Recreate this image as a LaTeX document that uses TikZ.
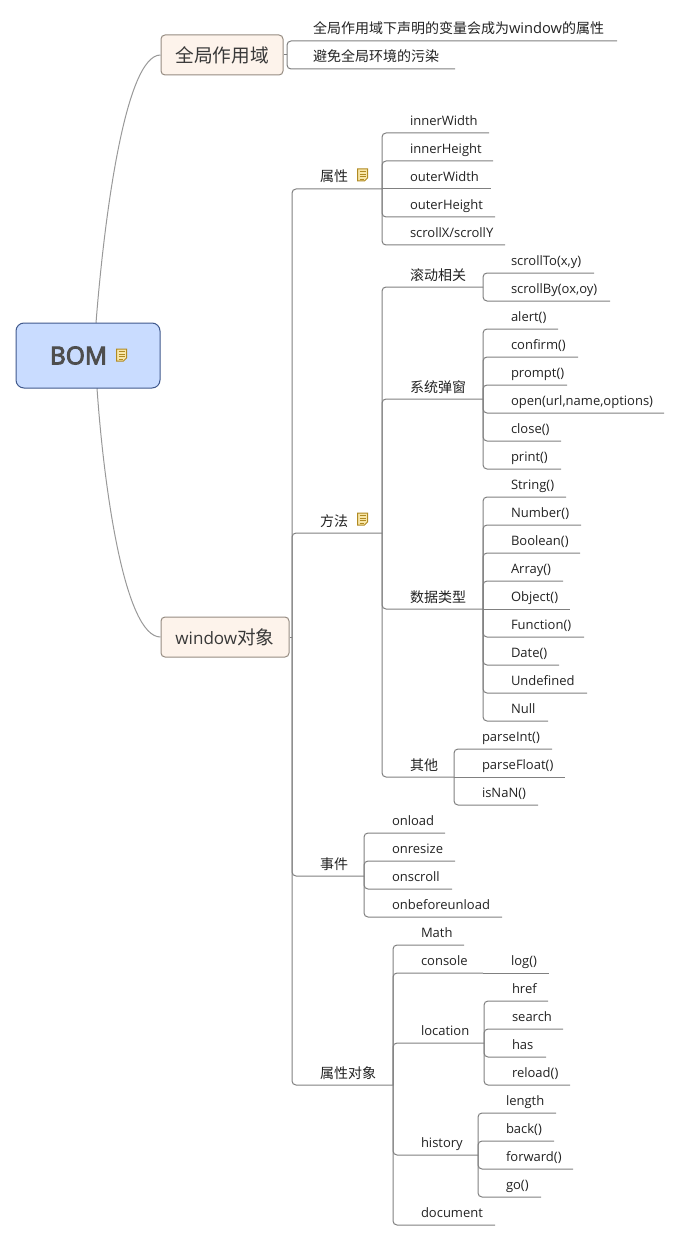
\documentclass[tikz,border=0pt]{standalone}
\usepackage{fontspec}
\setmainfont{Open Sans}
\newfontfamily\cjk{Noto Sans CJK SC}
\newfontfamily\bomfont[FakeBold=4]{Open Sans}
\definecolor{linegray}{HTML}{808080}
\definecolor{rootfill}{HTML}{C9DCFF}
\definecolor{rootline}{HTML}{40598C}
\definecolor{mainfill}{HTML}{FDF3EB}
\definecolor{mainline}{HTML}{968C82}
\definecolor{ink}{HTML}{222222}
\definecolor{notefill}{HTML}{F8E6A8}
\definecolor{noteline}{HTML}{B08A22}
\newcommand\dn[1]{\raisebox{-0.6pt}{#1}}
\newcommand\zh[1]{\raisebox{-0.75pt}{\cjk\fontsize{10.5}{12}\selectfont #1}}
\newcommand\zhbig[1]{{\cjk\fontsize{14}{18}\selectfont #1}}
\tikzset{
  conn/.style={draw=linegray,line width=0.75pt,rounded corners=3pt},
  curveconn/.style={draw=linegray!80,line width=0.75pt},
  lbl/.style={inner sep=0pt,outer sep=0pt,anchor=base west,text depth=6pt,text=ink,font=\fontsize{9.75}{12}\selectfont},
  rootbox/.style={draw=rootline,fill=rootfill,line width=0.75pt,rounded corners=6pt,minimum width=108pt,minimum height=48.75pt,inner sep=0pt,text=ink!80,font=\fontsize{18.4}{22}\selectfont\bomfont},
  mainbox/.style={draw=mainline,fill=mainfill,line width=0.75pt,rounded corners=3pt,minimum height=30pt,inner sep=0pt,text=ink!90},
  joint/.style={inner sep=0pt,outer sep=0pt,minimum size=0pt},
  noteicon/.style={fill=notefill,draw=noteline,line width=0.75pt,line join=miter}
}
\newcommand\topic[6]{%
  \pgfmathsetlengthmacro\tw{(#5-#3)*0.75pt}%
  \node[lbl] (#1) at (#3,#4-8) {\makebox[\tw][l]{#6}};
  \draw[conn] (#2.south east) |- (#1.south east);
}
% a child on the same level as the end of its parent's line: the connector runs straight on
\newcommand\straighttopic[6]{%
  \pgfmathsetlengthmacro\tw{(#5-#3)*0.75pt}%
  \node[lbl] (#1) at (#3,#4-8) {\makebox[\tw][l]{#6}};
  \draw[conn] (#2.south east) -- (#1.south east);
}
\newcommand\noteat[2]{%
  \begin{scope}[shift={(#1,#2)}]
    \path[noteicon] (-5,-6) -- (5,-6) -- (5,3) -- (2,6) -- (-5,6) -- cycle;
    \draw[noteline,line width=0.6pt] (-3,-3.5) -- (3,-3.5) (-3,-1) -- (3,-1) (-3,1.5) -- (3,1.5) (-3,4) -- (1,4);
  \end{scope}
}
\begin{document}
\begin{tikzpicture}[x=0.75pt,y=-0.75pt]
\useasboundingbox (0,0) rectangle (680,1241);
% curves
\node[mainbox,minimum width=91.5pt] (g) at (222,55) {\zhbig{全局作用域}};
\node[mainbox,minimum width=96pt] (w) at (225,637) {\fontsize{12.8}{15}\selectfont window\zhbig{对象}};
\coordinate (rt) at (96,323);
\coordinate (rb) at (97,388);
\draw[curveconn] (rt) .. controls (104,220) and (125,55) .. (g.west);
\draw[curveconn] (rb) .. controls (104,490) and (125,637) .. (w.west);
\node[rootbox] (root) at (88,355.5) {BOM\rule{14.25pt}{0pt}};
\noteat{121.5}{355}
% joints
\node[joint] (gj) at (287,55) {};
\node[joint] (wj) at (292,637) {};
\draw[conn] (g.east) -- (gj.center);
\draw[conn] (w.east) -- (wj.center);
% global scope
\topic{g1}{gj}{313}{41}{617}{\zh{全局作用域下声明的变量会成为}\dn{\fontsize{11}{12}\selectfont window}\zh{的属性}}
\topic{g2}{gj}{313}{69}{455}{\zh{避免全局环境的污染}}
% window level
\topic{attr}{wj}{320}{189}{382}{\zh{属性}}
\topic{meth}{wj}{320}{533}{382}{\zh{方法}}
\topic{evt}{wj}{320}{876}{364}{\zh{事件}}
\topic{objs}{wj}{320}{1085}{393}{\zh{属性对象}}
\noteat{362.5}{175}
\noteat{362.5}{519}
% attributes
\topic{a1}{attr}{410}{133}{489}{\dn{innerWidth}}
\topic{a2}{attr}{410}{161}{493}{\dn{innerHeight}}
\straighttopic{a3}{attr}{410}{189}{491}{\dn{outerWidth}}
\topic{a4}{attr}{410}{217}{495}{\dn{outerHeight}}
\topic{a5}{attr}{410}{245}{505}{\dn{scrollX/scrollY}}
% methods
\topic{m1}{meth}{410}{287}{483}{\zh{滚动相关}}
\topic{m2}{meth}{410}{399}{483}{\zh{系统弹窗}}
\topic{m3}{meth}{410}{609}{483}{\zh{数据类型}}
\topic{m4}{meth}{410}{777}{454}{\zh{其他}}
\topic{s1}{m1}{511}{273}{594}{scrollTo(x,y)}
\topic{s2}{m1}{511}{301}{610}{scrollBy(ox,oy)}
\topic{p1}{m2}{511}{329}{558}{alert()}
\topic{p2}{m2}{511}{357}{578}{confirm()}
\topic{p3}{m2}{511}{385}{567}{prompt()}
\topic{p4}{m2}{511}{413}{664}{open(url,name,options)}
\topic{p5}{m2}{511}{441}{561}{close()}
\topic{p6}{m2}{511}{469}{561}{print()}
\topic{d1}{m3}{511}{497}{566}{String()}
\topic{d2}{m3}{511}{525}{581}{Number()}
\topic{d3}{m3}{511}{553}{580}{Boolean()}
\topic{d4}{m3}{511}{581}{563}{Array()}
\straighttopic{d5}{m3}{511}{609}{570}{Object()}
\topic{d6}{m3}{511}{637}{584}{Function()}
\topic{d7}{m3}{511}{665}{559}{Date()}
\topic{d8}{m3}{511}{693}{587}{Undefined}
\topic{d9}{m3}{511}{721}{548}{Null}
\topic{o1}{m4}{482}{749}{552}{parseInt()}
\straighttopic{o2}{m4}{482}{777}{565}{parseFloat()}
\topic{o3}{m4}{482}{805}{538}{isNaN()}
% events
\topic{e1}{evt}{392}{833}{445}{onload}
\topic{e2}{evt}{392}{861}{455}{onresize}
\topic{e3}{evt}{392}{889}{452}{onscroll}
\topic{e4}{evt}{392}{917}{502}{onbeforeunload}
% object properties
\topic{b1}{objs}{421}{945}{464}{Math}
\topic{b2}{objs}{421}{973}{483}{console}
\topic{b3}{objs}{421}{1043}{484}{location}
\topic{b4}{objs}{421}{1155}{478}{history}
\topic{b5}{objs}{421}{1225}{495}{document}
\straighttopic{c1}{b2}{511}{973}{549}{log()}
\topic{l1}{b3}{512}{1001}{548}{href}
\topic{l2}{b3}{512}{1029}{563}{search}
\topic{l3}{b3}{512}{1057}{546}{has}
\topic{l4}{b3}{512}{1085}{570}{reload()}
\topic{h1}{b4}{506}{1113}{556}{length}
\topic{h2}{b4}{506}{1141}{554}{back()}
\topic{h3}{b4}{506}{1169}{573}{forward()}
\topic{h4}{b4}{506}{1197}{541}{go()}
\end{tikzpicture}
\end{document}
